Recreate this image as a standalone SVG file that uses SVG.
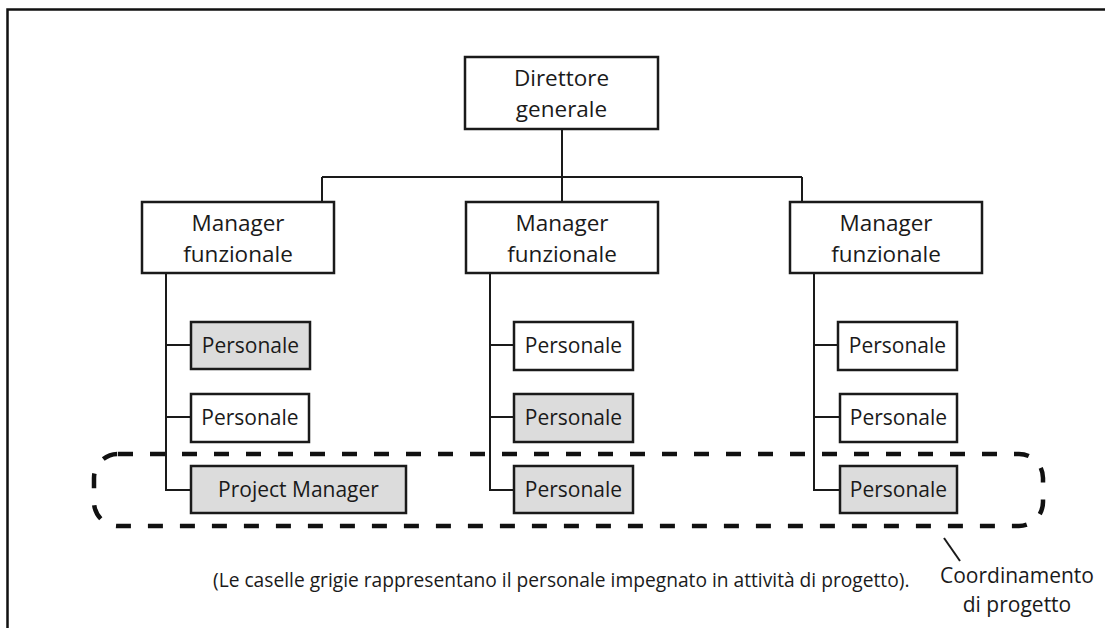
<svg xmlns="http://www.w3.org/2000/svg" width="1105" height="628" viewBox="0 0 1105 628">
  <style>
    .box { fill: #ffffff; stroke: #1a1a1a; stroke-width: 2.5; }
    .grey { fill: #dcdcdc; }
    .link { fill: none; stroke: #1a1a1a; stroke-width: 2; }
    .lbl { font-family: "Open Sans", "Liberation Sans", sans-serif; fill: #1a1a1a; text-anchor: middle; }
    .big { font-size: 22.5px; }
    .mid { font-size: 21px; }
    .note { font-family: "Open Sans", "Liberation Sans", sans-serif; fill: #1a1a1a; font-size: 19.2px; }
  </style>

  <rect width="1105" height="628" fill="#ffffff"/>

  <!-- outer frame: top and left edges only -->
  <path d="M7.5 628 V9.5 H1105" fill="none" stroke="#111" stroke-width="2.5"/>

  <!-- connectors -->
  <g id="connectors">
    <path class="link" d="M562 129 V177 M322 177 H802 M322 177 V202 M562 177 V202 M802 177 V202"/>
    <path class="link" d="M166 273 V490 H191 M166 345 H191 M166 417 H191"/>
    <path class="link" d="M490 273 V490 H514 M490 345 H514 M490 417 H514"/>
    <path class="link" d="M814 273 V490 H840 M814 345 H838 M814 417 H840"/>
  </g>

  <g id="direttore">
    <rect class="box" x="465" y="57" width="193" height="72"/>
    <text class="lbl big" x="561.5" y="85.5">Direttore</text>
    <text class="lbl big" x="561.5" y="116.5">generale</text>
  </g>

  <g id="manager-1">
    <rect class="box" x="142" y="202" width="192" height="71"/>
    <text class="lbl big" x="238" y="230.5">Manager</text>
    <text class="lbl big" x="238" y="261.5">funzionale</text>
  </g>
  <g id="manager-2">
    <rect class="box" x="466" y="202" width="192" height="71"/>
    <text class="lbl big" x="562" y="230.5">Manager</text>
    <text class="lbl big" x="562" y="261.5">funzionale</text>
  </g>
  <g id="manager-3">
    <rect class="box" x="790" y="202" width="192" height="71"/>
    <text class="lbl big" x="886" y="230.5">Manager</text>
    <text class="lbl big" x="886" y="261.5">funzionale</text>
  </g>

  <!-- column 1 -->
  <g id="personale-1a">
    <rect class="box grey" x="191" y="322" width="119" height="47"/>
    <text class="lbl mid" x="250.5" y="353">Personale</text>
  </g>
  <g id="personale-1b">
    <rect class="box" x="191" y="394" width="118" height="48"/>
    <text class="lbl mid" x="250" y="425">Personale</text>
  </g>
  <g id="project-manager">
    <rect class="box grey" x="191" y="466" width="215" height="47"/>
    <text class="lbl mid" x="298.5" y="497">Project Manager</text>
  </g>

  <!-- column 2 -->
  <g id="personale-2a">
    <rect class="box" x="514" y="322" width="119" height="48"/>
    <text class="lbl mid" x="573.5" y="353">Personale</text>
  </g>
  <g id="personale-2b">
    <rect class="box grey" x="514" y="394" width="119" height="48"/>
    <text class="lbl mid" x="573.5" y="425">Personale</text>
  </g>
  <g id="personale-2c">
    <rect class="box grey" x="514" y="466" width="119" height="47"/>
    <text class="lbl mid" x="573.5" y="497">Personale</text>
  </g>

  <!-- column 3 -->
  <g id="personale-3a">
    <rect class="box" x="838" y="322" width="119" height="48"/>
    <text class="lbl mid" x="897.5" y="353">Personale</text>
  </g>
  <g id="personale-3b">
    <rect class="box" x="840" y="394" width="117" height="48"/>
    <text class="lbl mid" x="898.5" y="425">Personale</text>
  </g>
  <g id="personale-3c">
    <rect class="box grey" x="840" y="466" width="117" height="47"/>
    <text class="lbl mid" x="898.5" y="497">Personale</text>
  </g>

  <!-- project coordination band -->
  <g id="coordinamento">
    <rect x="94" y="454" width="949" height="72" rx="24" ry="24" fill="none" stroke="#111" stroke-width="4.5" stroke-dasharray="15 17"/>
    <path class="link" d="M944 538 L960 561"/>
    <text class="lbl mid" x="1017" y="583">Coordinamento</text>
    <text class="lbl mid" x="1017" y="612">di progetto</text>
  </g>

  <text class="note" x="213" y="587">(Le caselle grigie rappresentano il personale impegnato in attività di progetto).</text>
</svg>
